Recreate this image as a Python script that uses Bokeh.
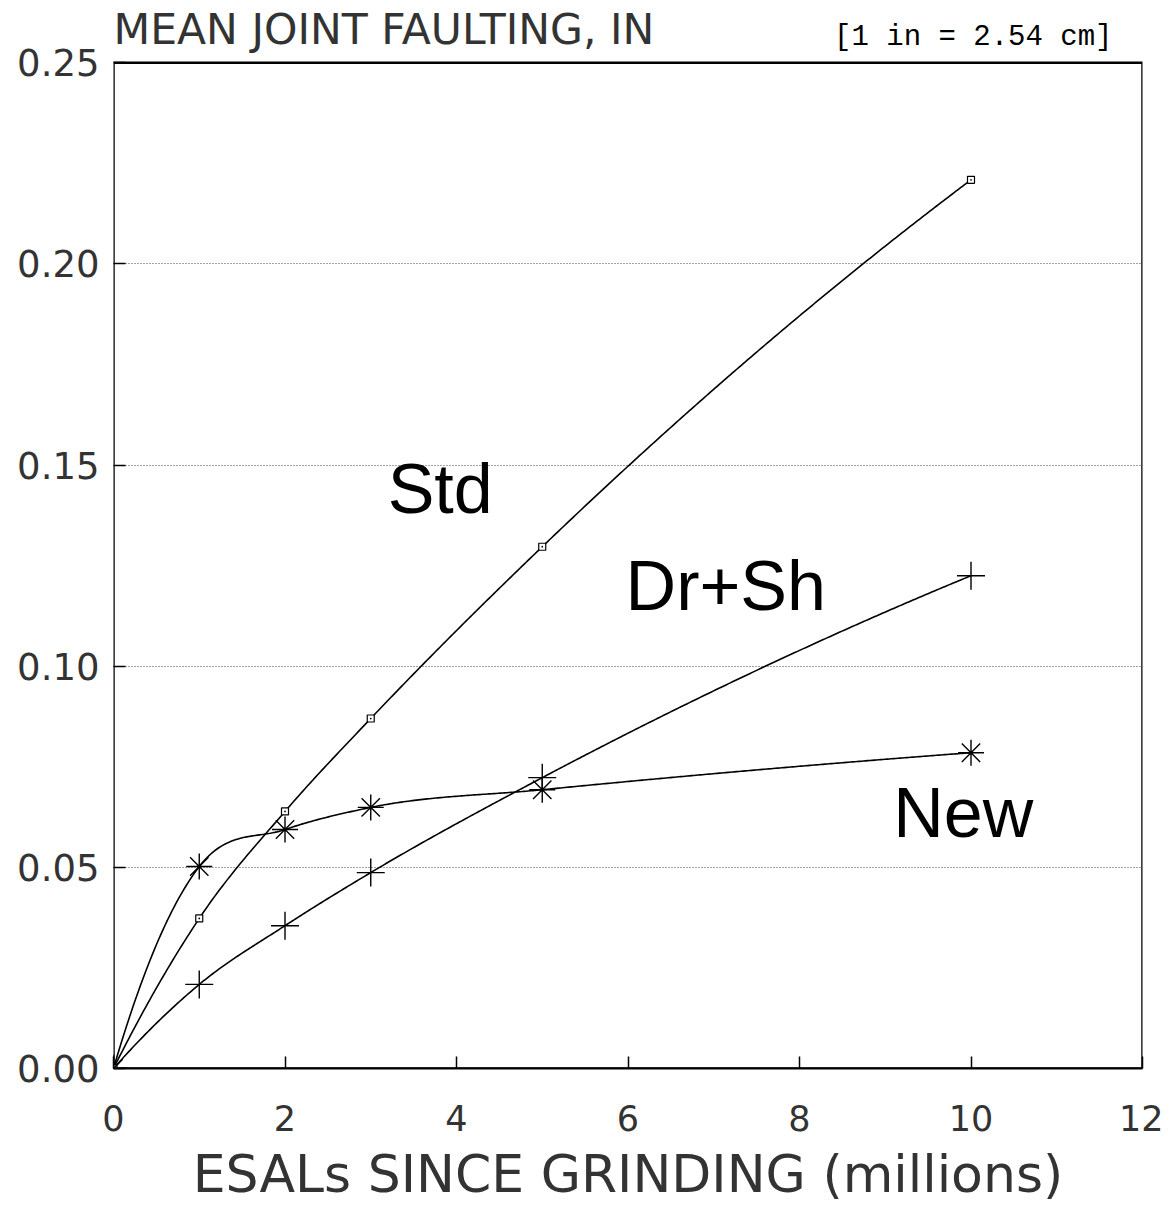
import numpy as np
from bokeh.plotting import figure
from bokeh.models import Label, FixedTicker, NumeralTickFormatter, Range1d
from bokeh.embed import file_html
from bokeh.resources import INLINE

# ---- data ----
esals = [0, 1, 2, 3, 5, 10]
std = [0.0, 0.0373, 0.0639, 0.0870, 0.1297, 0.2209]
drsh = [0.0, 0.0209, 0.0355, 0.0487, 0.0723, 0.1225]
new = [0.0, 0.0502, 0.0594, 0.0649, 0.0693, 0.0785]

x_ticks = [0, 2, 4, 6, 8, 10, 12]
y_ticks = [0.0, 0.05, 0.10, 0.15, 0.20, 0.25]

series_labels = ["Std", "Dr+Sh", "New"]
label_x = [3.81, 7.14, 9.91]
label_y = [0.1441, 0.1200, 0.0636]

y_title = "MEAN JOINT FAULTING, IN"
x_title = "ESALs SINCE GRINDING (millions)"
unit_note = "[1 in = 2.54 cm]"

X_MAX = 12
Y_MAX = 0.25
Y_TOP = 0.2635   # room above the box for the header texts


def smooth_curve(xs, ys, n=400):
    xs = np.asarray(xs, float)
    ys = np.asarray(ys, float)
    h = np.diff(xs)
    d = np.diff(ys) / h
    m = np.zeros_like(xs)
    for i in range(1, len(xs) - 1):
        m[i] = (h[i] * d[i - 1] + h[i - 1] * d[i]) / (h[i] + h[i - 1])
        lim = 3 * min(d[i - 1], d[i])
        m[i] = max(0.0, min(m[i], lim))
    m[0] = max(0.0, 2 * d[0] - m[1])
    m[-1] = max(0.0, 2 * d[-1] - m[-2])
    m[0] = min(m[0], 3 * d[0])
    xx = np.linspace(xs[0], xs[-1], n)
    yy = np.empty_like(xx)
    for j, x in enumerate(xx):
        i = min(np.searchsorted(xs, x, side="right") - 1, len(xs) - 2)
        t = (x - xs[i]) / h[i]
        h00 = 2 * t**3 - 3 * t**2 + 1
        h10 = t**3 - 2 * t**2 + t
        h01 = -2 * t**3 + 3 * t**2
        h11 = t**3 - t**2
        yy[j] = h00 * ys[i] + h10 * h[i] * m[i] + h01 * ys[i + 1] + h11 * h[i] * m[i + 1]
    return xx, yy


FONT = "DejaVu Sans"
TXT = "#333333"

p = figure(width=1163, height=1207, output_backend="svg", toolbar_location=None,
           x_range=Range1d(0, X_MAX), y_range=Range1d(0, Y_TOP),
           min_border_left=113, min_border_right=21, min_border_top=8, min_border_bottom=139)
p.background_fill_color = "white"
p.border_fill_color = "white"
p.outline_line_color = None

for ax in (p.xaxis[0], p.yaxis[0]):
    ax.major_tick_in = 12
    ax.major_tick_out = 0
    ax.minor_tick_line_color = None
    ax.major_tick_line_color = "black"
    ax.major_tick_line_width = 1.5
    ax.major_label_text_font = FONT
    ax.major_label_text_color = TXT

p.xaxis.axis_line_color = "black"
p.xaxis.axis_line_width = 2
p.yaxis.axis_line_color = None
p.xaxis.major_label_text_font_size = "35px"
p.yaxis.major_label_text_font_size = "37px"
p.xaxis.ticker = FixedTicker(ticks=x_ticks)
p.yaxis.ticker = FixedTicker(ticks=y_ticks)
p.yaxis.formatter = NumeralTickFormatter(format="0.00")
p.xaxis.major_label_standoff = 36
p.yaxis.major_label_standoff = 14
p.xaxis.axis_label = x_title
p.xaxis.axis_label_text_font = FONT
p.xaxis.axis_label_text_font_size = "52px"
p.xaxis.axis_label_text_font_style = "normal"
p.xaxis.axis_label_text_color = TXT
p.xaxis.axis_label_standoff = 10

p.xgrid.grid_line_color = None
p.ygrid.grid_line_color = "#444444"
p.ygrid.grid_line_dash = "1 2"
p.ygrid.grid_line_width = 1

# plot box
p.quad(left=[0], right=[X_MAX], bottom=[0], top=[Y_MAX], fill_color=None,
       line_color="black", line_width=2.5)

# curves
for ys in (std, drsh, new):
    cx, cy = smooth_curve(esals, ys)
    p.line(cx, cy, line_color="black", line_width=1.6)

# markers
p.scatter(esals, std, marker="square_dot", size=7, line_color="black",
          fill_color="white", line_width=1.2)
p.scatter(esals, drsh, marker="cross", size=28, line_color="black", line_width=1.4)
p.scatter(esals, new, marker="asterisk", size=26, line_color="black", line_width=1.4)

for t, lx, ly in zip(series_labels, label_x, label_y):
    p.add_layout(Label(x=lx, y=ly, text=t, text_font="Liberation Sans",
                       text_font_size="70px", text_align="center",
                       text_baseline="middle", text_color="black"))

p.add_layout(Label(x=0, y=0.2584, text=y_title, text_font=FONT,
                   text_font_size="42.5px", text_align="left",
                   text_baseline="middle", text_color=TXT))
p.add_layout(Label(x=11.65, y=0.2563, text=unit_note,
                   text_font="Liberation Mono", text_font_size="29px",
                   text_align="right", text_baseline="middle", text_color="black"))

open("out.html", "w").write(file_html(p, INLINE))
